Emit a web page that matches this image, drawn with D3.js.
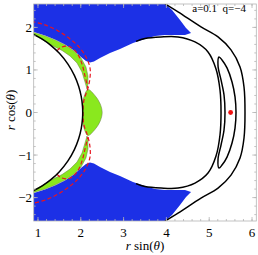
<!DOCTYPE html>
<html>
<head>
<meta charset="utf-8">
<script src="https://cdn.jsdelivr.net/npm/d3@7"></script>
<style>
  body { margin: 0; background: #fff; }
  svg { display: block; }
  text { font-family: 'Liberation Serif', 'Times New Roman', 'DejaVu Serif', serif; }
</style>
</head>
<body>
<svg id="chart" width="258" height="255"></svg>
<script>
// ticks and caption
const xTicks = [1, 2, 3, 4, 5, 6];
const yTicks = [-2, -1, 0, 1, 2];
const caption = 'a=0.1  q=\u22124';

// blue regions
const blueUpper = [
  [0.85, 2.6], [3.967, 2.6], [3.967, 2.553], [4.131, 2.41], [4.318, 2.176], [4.458, 1.988],
  [4.575, 1.871], [4.435, 1.824], [4.2, 1.824], [3.967, 1.824], [3.734, 1.8], [3.5, 1.729],
  [3.22, 1.635], [2.916, 1.494], [2.682, 1.4], [2.449, 1.282], [2.308, 1.2], [2.215, 1.176],
  [2.121, 1.212], [2.005, 1.306], [1.841, 1.459], [1.631, 1.6], [1.397, 1.718],
  [1.164, 1.812], [0.907, 1.894], [0.85, 1.9]
];
const blueLower = [
  [0.85, -2.6], [3.967, -2.6], [3.967, -2.553], [4.131, -2.41], [4.318, -2.176], [4.458, -1.988],
  [4.575, -1.871], [4.435, -1.824], [4.2, -1.824], [3.967, -1.824], [3.734, -1.8], [3.5, -1.729],
  [3.22, -1.635], [2.916, -1.494], [2.682, -1.4], [2.449, -1.282], [2.308, -1.2], [2.215, -1.176],
  [2.121, -1.212], [2.005, -1.306], [1.841, -1.459], [1.631, -1.6], [1.397, -1.718],
  [1.164, -1.812], [0.907, -1.894], [0.85, -1.9]
];

// green regions
const greenUpper = [
  [0.85, 1.895], [1.164, 1.8], [1.397, 1.706], [1.631, 1.588], [1.841, 1.447], [2.005, 1.282],
  [2.121, 1.071], [2.168, 0.859], [2.168, 0.671], [2.145, 0.553],
  [2.098, 0.718], [2.028, 0.953], [1.911, 1.165], [1.748, 1.329], [1.561, 1.459],
  [1.327, 1.576], [1.093, 1.718], [0.85, 1.85]
];
const greenLower = [
  [0.85, -1.895], [1.164, -1.8], [1.397, -1.706], [1.631, -1.588], [1.841, -1.447], [2.005, -1.282],
  [2.121, -1.071], [2.168, -0.859], [2.168, -0.671], [2.145, -0.553],
  [2.098, -0.718], [2.028, -0.953], [1.911, -1.165], [1.748, -1.329], [1.561, -1.459],
  [1.327, -1.576], [1.093, -1.718], [0.85, -1.85]
];
const greenLobe = [
  [2.168, 0.54], [2.33, 0.4], [2.45, 0.21], [2.5, 0], [2.45, -0.21], [2.33, -0.4],
  [2.168, -0.54], [2.06, -0.31], [2.045, 0], [2.06, 0.31]
];

// black curves
const horizon = [
  [0.85, 1.86], [0.9, 1.836], [1.1, 1.724], [1.3, 1.579], [1.5, 1.39], [1.7, 1.137], [1.85, 0.871],
  [1.95, 0.616], [2.01, 0.377], [2.04, 0.143], [2.045, 0], [2.04, -0.143], [2.01, -0.377],
  [1.95, -0.616], [1.85, -0.871], [1.7, -1.137], [1.5, -1.39], [1.3, -1.579], [1.1, -1.724],
  [0.9, -1.836], [0.85, -1.86]
];
const outerCurve = [
  [3.967, 2.553], [4.271, 2.365], [4.808, 2.012], [5.206, 1.776], [5.509, 1.471], [5.72, 1.071],
  [5.813, 0.6], [5.836, 0], [5.813, -0.6], [5.72, -1.071], [5.509, -1.471], [5.206, -1.776],
  [4.808, -2.012], [4.271, -2.365], [3.967, -2.553]
];
const innerCurve = [
  [3.29, 1.671], [3.5, 1.741], [3.874, 1.776], [4.271, 1.776], [4.668, 1.659], [4.972, 1.424],
  [5.159, 1.024], [5.252, 0.529], [5.276, 0], [5.252, -0.529], [5.159, -1.024], [4.972, -1.424],
  [4.668, -1.659], [4.271, -1.776], [3.874, -1.776], [3.5, -1.741], [3.29, -1.671]
];
const loopCurve = [
  [5.229, 1.306], [5.299, 1.235], [5.416, 1.047], [5.533, 0.718], [5.603, 0.365], [5.626, 0],
  [5.603, -0.365], [5.533, -0.718], [5.416, -1.047], [5.299, -1.235], [5.229, -1.306],
  [5.206, -1.094], [5.276, -0.765], [5.346, -0.412], [5.369, 0], [5.346, 0.412],
  [5.276, 0.765], [5.206, 1.094]
];

// red dashed curves
const dashOuter = [
  [0.85, 2.14], [1.164, 2.059], [1.467, 1.918], [1.748, 1.729], [1.958, 1.541], [2.121, 1.306],
  [2.215, 1.047], [2.215, 0.812], [2.168, 0.576], [2.075, 0.294], [2.051, 0], [2.075, -0.294],
  [2.168, -0.576], [2.215, -0.812], [2.215, -1.047], [2.121, -1.306], [1.958, -1.541],
  [1.748, -1.729], [1.467, -1.918], [1.164, -2.059], [0.85, -2.14]
];
const dashInnerUpper = [
  [1.444, 1.447], [1.537, 1.529], [1.724, 1.553], [1.911, 1.4], [2.028, 1.141], [2.098, 0.859], [2.168, 0.576]
];
const dashInnerLower = [
  [1.444, -1.447], [1.537, -1.529], [1.724, -1.553], [1.911, -1.4], [2.028, -1.141], [2.098, -0.859], [2.168, -0.576]
];

const stablePoint = [[5.5, 0]];

const svg = d3.select('#chart');
const x = d3.scaleLinear().domain([0.9, 6.1]).range([33.7, 256.3]);
const y = d3.scaleLinear().domain([-2.55, 2.55]).range([221, 4]);

svg.append('defs').append('clipPath').attr('id', 'plot')
  .append('rect')
  .attr('x', x(0.9)).attr('y', y(2.55))
  .attr('width', x(6.1) - x(0.9)).attr('height', y(-2.55) - y(2.55));

const g = svg.append('g').attr('clip-path', 'url(#plot)');

const area = d3.line().x(d => x(d[0])).y(d => y(d[1])).curve(d3.curveLinearClosed);
const smoothClosed = d3.line().x(d => x(d[0])).y(d => y(d[1])).curve(d3.curveCatmullRomClosed);
const smooth = d3.line().x(d => x(d[0])).y(d => y(d[1])).curve(d3.curveCatmullRom);

g.selectAll('path.blue')
  .data([blueUpper, blueLower])
  .join('path')
  .attr('class', 'blue')
  .attr('d', area)
  .attr('fill', '#1c30e6');

g.selectAll('path.green')
  .data([greenUpper, greenLower])
  .join('path')
  .attr('class', 'green')
  .attr('d', area)
  .attr('fill', '#8ae81e')
  .attr('stroke', '#6b7a4a')
  .attr('stroke-width', 0.5);

g.append('path')
  .datum(greenLobe)
  .attr('d', smoothClosed)
  .attr('fill', '#8ae81e')
  .attr('stroke', '#6b7a4a')
  .attr('stroke-width', 0.5);

g.selectAll('path.dash')
  .data([dashOuter, dashInnerUpper, dashInnerLower])
  .join('path')
  .attr('class', 'dash')
  .attr('d', smooth)
  .attr('fill', 'none')
  .attr('stroke', '#e8141e')
  .attr('stroke-width', 1.2)
  .attr('stroke-dasharray', '4,2.5');

g.selectAll('path.black')
  .data([horizon, outerCurve, innerCurve])
  .join('path')
  .attr('class', 'black')
  .attr('d', smooth)
  .attr('fill', 'none')
  .attr('stroke', '#000')
  .attr('stroke-width', 1.5);

g.append('path')
  .datum(loopCurve)
  .attr('d', smoothClosed)
  .attr('fill', 'none')
  .attr('stroke', '#000')
  .attr('stroke-width', 1.5);

g.selectAll('circle.pt')
  .data(stablePoint)
  .join('circle')
  .attr('class', 'pt')
  .attr('cx', d => x(d[0]))
  .attr('cy', d => y(d[1]))
  .attr('r', 2.4)
  .attr('fill', '#f01010');

// frame + ticks
const tickColor = '#b4b4b4';
const frame = svg.append('g');
frame.append('rect')
  .attr('x', x(0.9)).attr('y', y(2.55))
  .attr('width', x(6.1) - x(0.9)).attr('height', y(-2.55) - y(2.55))
  .attr('fill', 'none').attr('stroke', tickColor).attr('stroke-width', 0.8);

const xMinor = x.ticks(26);
const yMinor = y.ticks(25);
const addTicks = (vals, len, vertical) => {
  vals.forEach(v => {
    if (vertical) {
      const px = x(v);
      frame.append('line').attr('x1', px).attr('x2', px).attr('y1', y(-2.55)).attr('y2', y(-2.55) - len);
      frame.append('line').attr('x1', px).attr('x2', px).attr('y1', y(2.55)).attr('y2', y(2.55) + len);
    } else {
      const py = y(v);
      frame.append('line').attr('y1', py).attr('y2', py).attr('x1', x(0.9)).attr('x2', x(0.9) + len);
      frame.append('line').attr('y1', py).attr('y2', py).attr('x1', x(6.1)).attr('x2', x(6.1) - len);
    }
  });
};
addTicks(xMinor, 2, true);
addTicks(xTicks, 4, true);
addTicks(yMinor, 2, false);
addTicks(yTicks, 4, false);
frame.selectAll('line').attr('stroke', tickColor).attr('stroke-width', 0.8);

svg.append('g').selectAll('text')
  .data(xTicks)
  .join('text')
  .attr('x', d => x(d))
  .attr('y', 237)
  .attr('text-anchor', 'middle')
  .attr('font-size', 13)
  .text(d => d);

svg.append('g').selectAll('text')
  .data(yTicks)
  .join('text')
  .attr('x', 32)
  .attr('y', d => y(d) + 4.5)
  .attr('text-anchor', 'end')
  .attr('font-size', 13)
  .text(d => d < 0 ? '\u2212' + Math.abs(d) : d);

const xl = svg.append('text')
  .attr('x', 145).attr('y', 250)
  .attr('text-anchor', 'middle')
  .attr('font-size', 13);
xl.append('tspan').attr('font-style', 'italic').text('r');
xl.append('tspan').text(' sin(');
xl.append('tspan').attr('font-style', 'italic').text('\u03b8');
xl.append('tspan').text(')');

const yl = svg.append('text')
  .attr('transform', 'translate(15,110) rotate(-90)')
  .attr('text-anchor', 'middle')
  .attr('font-size', 13);
yl.append('tspan').attr('font-style', 'italic').text('r');
yl.append('tspan').text(' cos(');
yl.append('tspan').attr('font-style', 'italic').text('\u03b8');
yl.append('tspan').text(')');

svg.append('text')
  .attr('x', 246).attr('y', 12)
  .attr('text-anchor', 'end')
  .attr('font-size', 11)
  .style('white-space', 'pre')
  .text(caption);
</script>
</body>
</html>
